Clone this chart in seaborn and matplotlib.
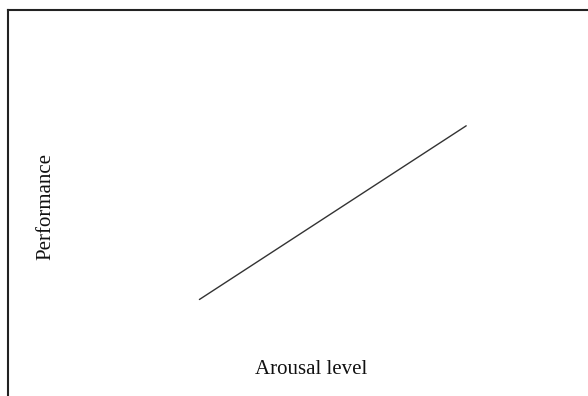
import matplotlib
matplotlib.use("Agg")
import matplotlib.pyplot as plt
import seaborn as sns
import pandas as pd

# Daten: eine gerade Linie (Arousal vs. Performance)
arousal = [3.3, 7.9]
performance = [2.5, 7.0]

sns.set_theme(style="white")
plt.rcParams['font.family'] = ['Liberation Serif', 'DejaVu Serif']

df = pd.DataFrame({"Arousal": arousal, "Performance": performance})

fig = plt.figure(figsize=(5.88, 3.96), dpi=100)
# Achse ragt rechts und unten aus dem Bild heraus
ax = fig.add_axes([8 / 588, 0, 580 / 588, 386 / 396])

sns.lineplot(data=df, x="Arousal", y="Performance", ax=ax, color="#333333", linewidth=1.0)

ax.set_xlim(0, 10)
ax.set_ylim(0, 10)
ax.set_xticks([])
ax.set_yticks([])
ax.set_xlabel("")
ax.set_ylabel("")
for side in ["left", "top"]:
    ax.spines[side].set_color("#222222")
    ax.spines[side].set_linewidth(1.5)
for side in ["right", "bottom"]:
    ax.spines[side].set_visible(False)

fig.text(311 / 588, 1 - 369 / 396, "Arousal level", ha="center", va="center", fontsize=15, color="#111111")
fig.text(46 / 588, 1 - 206 / 396, "Performance", ha="center", va="center", rotation=90, fontsize=15, color="#111111")

fig.savefig("out.png", dpi=100)
